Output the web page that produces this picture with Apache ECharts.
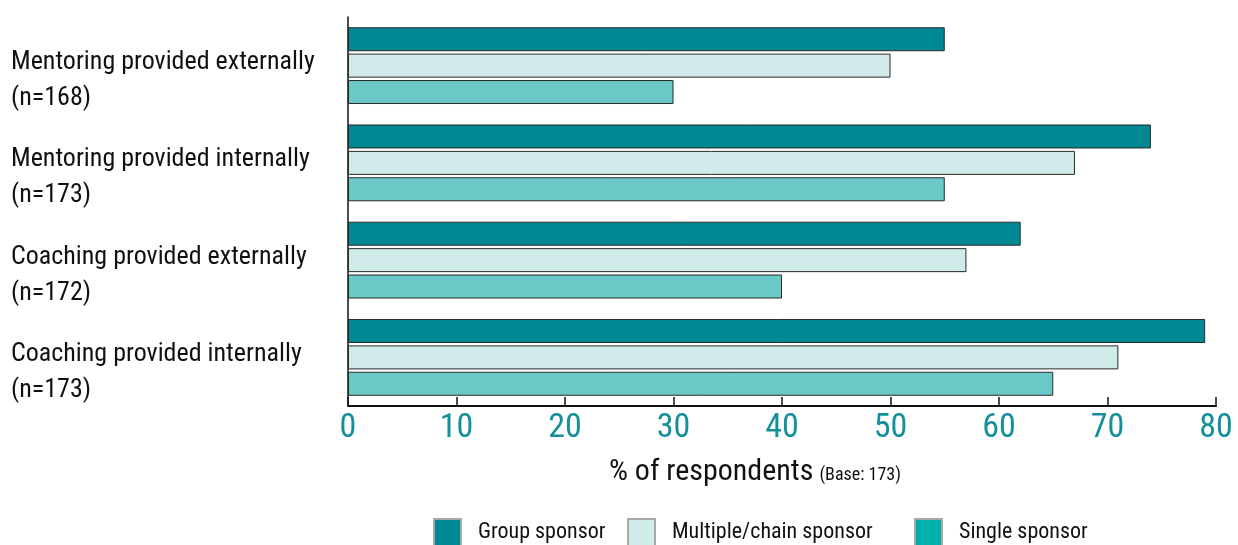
<!DOCTYPE html>
<html><head><meta charset="utf-8">
<script src="https://cdn.jsdelivr.net/npm/echarts@6/dist/echarts.min.js"></script>
<style>html,body{margin:0;padding:0;background:#fff}#c{width:1238px;height:545px}</style>
</head><body><div id="c"></div>
<script>
const categories = [
  'Mentoring provided externally\n(n=168)',
  'Mentoring provided internally\n(n=173)',
  'Coaching provided externally\n(n=172)',
  'Coaching provided internally\n(n=173)'
];
const groupSponsor = [55, 74, 62, 79];
const multipleSponsor = [50, 67, 57, 71];
const singleSponsor = [30, 55, 40, 65];
const xTicks = [0, 10, 20, 30, 40, 50, 60, 70, 80];

const FONT = '"Roboto Condensed", "Open Sans", sans-serif';
const chart = echarts.init(document.getElementById('c'));
const barBorder = { borderColor: '#2a2a2a', borderWidth: 1 };
function legendFor(name, left, color) {
  return {
    data: [{ name: name, icon: 'rect', itemStyle: { color: color, borderColor: '#a8a8a8', borderWidth: 2 } }],
    left: left, top: 513, itemWidth: 27, itemHeight: 27, itemGap: 0,
    selectedMode: false,
    textStyle: { fontFamily: FONT, fontSize: 22, color: '#111', padding: [0, 0, 0, 12] }
  };
}
chart.setOption({
  animation: false,
  textStyle: { fontFamily: FONT },
  title: {
    text: '{a|% of respondents} {b|(Base: 173)}',
    left: 604, top: 452,
    textStyle: {
      fontWeight: 'normal',
      rich: {
        a: { fontFamily: FONT, fontSize: 30, fontWeight: 'normal', color: '#111' },
        b: { fontFamily: FONT, fontSize: 18, fontWeight: 'normal', color: '#111', padding: [7, 0, 0, 2] }
      }
    }
  },
  legend: [
    legendFor('Group sponsor', 428, '#008893'),
    legendFor('Multiple/chain sponsor', 622, '#d0ebea'),
    legendFor('Single sponsor', 909, '#00b1ab')
  ],
  grid: { left: 348, right: 22, top: 17, bottom: 139, containLabel: false },
  xAxis: {
    type: 'value', min: 0, max: 80, interval: 10,
    axisLine: { show: true, lineStyle: { color: '#111', width: 2 } },
    axisTick: { show: true, inside: true, length: 9, lineStyle: { color: '#111', width: 1.5 } },
    splitLine: { show: false },
    axisLabel: { fontFamily: FONT, fontSize: 34, fontWeight: 'normal', color: '#13909a', margin: 5,
      formatter: v => xTicks.includes(v) ? String(v) : '' }
  },
  yAxis: {
    type: 'category', data: categories, inverse: true,
    axisLine: { show: true, lineStyle: { color: '#111', width: 1.5 } },
    axisTick: { show: false },
    axisLabel: { interval: 0, hideOverlap: false, fontFamily: FONT, fontSize: 26, color: '#111',
      align: 'left', margin: 337,
      formatter: v => '{s| }\n' + v.split('\n').map(l => '{t|' + l + '}').join('\n'),
      rich: {
        s: { fontSize: 10, lineHeight: 30 },
        t: { fontFamily: FONT, fontSize: 26, color: '#111', lineHeight: 36 }
      }
    }
  },
  series: [
    { name: 'Group sponsor', type: 'bar', data: groupSponsor, barWidth: 24, barGap: '10%',
      itemStyle: Object.assign({ color: '#008893' }, barBorder) },
    { name: 'Multiple/chain sponsor', type: 'bar', data: multipleSponsor, barWidth: 24, barGap: '10%',
      itemStyle: Object.assign({ color: '#d0ebea' }, barBorder) },
    { name: 'Single sponsor', type: 'bar', data: singleSponsor, barWidth: 24, barGap: '10%',
      itemStyle: Object.assign({ color: '#6ac9c6' }, barBorder) }
  ]
});
</script></body></html>
